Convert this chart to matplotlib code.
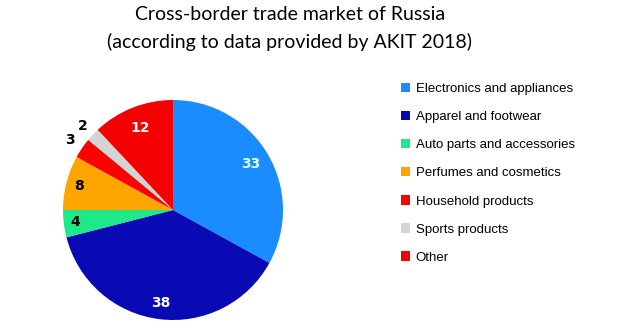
import numpy as np
import matplotlib.pyplot as plt
from matplotlib.patches import Patch

categories = ['Electronics and appliances', 'Apparel and footwear', 'Auto parts and accessories',
              'Perfumes and cosmetics', 'Household products', 'Sports products', 'Other']
values = [33, 38, 4, 8, 3, 2, 12]
colors = ['#1a8cff', '#0a0ab4', '#1ee88a', '#ffa500', '#ff0000', '#d4d4d4', '#f40000']
label_colors = ['#d8ffff', 'white', 'black', 'black', 'black', 'black', 'white']
label_r = [0.82, 0.85, 0.9, 0.88, 1.13, 1.12, 0.8]

fig = plt.figure(figsize=(6.33, 3.31), dpi=100)
fig.text(0.458, 0.955, 'Cross-border trade market of Russia', ha='center', va='center',
         fontsize=14, family='Lato')
fig.text(0.458, 0.872, '(according to data provided by AKIT 2018)', ha='center', va='center',
         fontsize=14, family='Lato')

ax = fig.add_axes([63 / 633, 11 / 331, 220 / 633, 220 / 331])
wedges, _ = ax.pie(values, colors=colors, startangle=90, counterclock=False, radius=1)
ax.set_xlim(-1, 1)
ax.set_ylim(-1, 1)
ax.set_aspect('equal')

for w, v, c, r in zip(wedges, values, label_colors, label_r):
    ang = np.deg2rad((w.theta1 + w.theta2) / 2)
    ax.text(r * np.cos(ang), r * np.sin(ang), str(v), ha='center', va='center',
            color=c, fontsize=10, fontweight='bold', family='DejaVu Sans')

handles = [Patch(facecolor=c, edgecolor='none') for c in colors]
fig.legend(handles, categories, loc='upper left', bbox_to_anchor=(0.615, 0.785),
           frameon=False, handlelength=0.7, handleheight=0.7,
           handletextpad=0.4, labelspacing=1.2, prop={'family': 'Liberation Sans', 'size': 9.5})

fig.savefig('out.png', dpi=100)
